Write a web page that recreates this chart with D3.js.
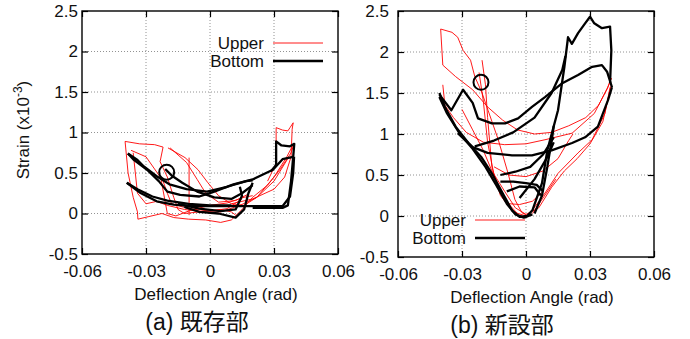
<!DOCTYPE html>
<html>
<head>
<meta charset="utf-8">
<script src="https://cdn.jsdelivr.net/npm/d3@7"></script>
<style>
  body { margin: 0; background: #fff; }
  svg { font-family: "Liberation Sans", Arial, sans-serif; }
  .grid line { stroke: #777; stroke-width: 0.8; stroke-dasharray: 1,2; }
</style>
</head>
<body>
<svg id="chart" width="690" height="339"></svg>
<script>
// ticks
var xTicks = [-0.06, -0.03, 0, 0.03, 0.06];
var yTicks = [-0.5, 0, 0.5, 1, 1.5, 2, 2.5];
var xTickLabels = ["-0.06", "-0.03", "0", "0.03", "0.06"];
var yTickLabels = ["-0.5", "0", "0.5", "1", "1.5", "2", "2.5"];
var seriesNames = ["Upper", "Bottom"];
var captions = ["(a)  既存部", "(b)  新設部"];

// (a) existing part, Upper gauge (red)
var leftUpper = [
  [[-0.0398,0.89],[-0.033,0.86],[-0.026,0.85],[-0.022,0.82],[-0.0234,0.64],[-0.02,0.45],[-0.017,0.2],[-0.015,0.05],[-0.012,0.0],[-0.005,0.02],[0.005,0.05],[0.01,0.02],[0.012,-0.02]],
  [[-0.0398,0.89],[-0.0384,0.5],[-0.036,0.2],[-0.034,0.02],[-0.0338,-0.07],[-0.029,-0.04],[-0.0225,0.0],[-0.017,-0.05],[-0.01,-0.07],[-0.002,-0.08],[0.005,-0.11],[0.01,-0.08],[0.015,0.05],[0.02,0.2],[0.027,0.35],[0.033,0.55],[0.038,0.75],[0.0395,0.87]],
  [[-0.0197,0.81],[-0.0117,0.69],[-0.0056,0.54],[-0.001,0.38],[0.004,0.22],[0.01,0.12],[0.016,0.1],[0.022,0.2],[0.03,0.45],[0.036,0.7],[0.039,0.85]],
  [[-0.037,0.78],[-0.03,0.7],[-0.026,0.55],[-0.022,0.4],[-0.02,0.25],[-0.018,0.12],[-0.01,0.06],[0,0.03],[0.008,0.06],[0.015,0.18]],
  [[-0.0098,0.69],[-0.0098,-0.02]],
  [[0.027,0.4],[0.031,0.62],[0.031,1.06],[0.034,1.03],[0.0365,1.02],[0.0375,1.06],[0.039,1.12],[0.0385,1.04],[0.038,0.7],[0.035,0.45],[0.03,0.3],[0.02,0.18],[0.01,0.12]],
  [[-0.036,0.75],[-0.034,0.25],[-0.03,0.12],[-0.025,0.15],[-0.02,0.1],[-0.012,0.05],[-0.003,0.02],[0.005,0.02],[0.014,0.1],[0.022,0.2],[0.03,0.4],[0.037,0.7]],
  [[-0.023,0.43],[-0.02,0.0],[-0.016,-0.03],[-0.008,0.05],[0,0.1],[0.008,0.13],[0.016,0.2],[0.02,0.22]],
  [[-0.0187,0.81],[-0.011,0.63],[-0.006,0.42],[-0.002,0.25],[0.004,0.14],[0.012,0.16],[0.018,0.24]]
];

// (a) existing part, Bottom gauge (black)
var leftBottom = [
  [[-0.0385,0.74],[-0.036,0.67],[-0.0295,0.54],[-0.024,0.40],[-0.020,0.27],[-0.014,0.23],[-0.005,0.21],[0.001,0.26],[0.011,0.36],[0.020,0.42],[0.0295,0.54],[0.034,0.67],[0.039,0.70]],
  [[-0.0385,0.74],[-0.034,0.66],[-0.031,0.58],[-0.025,0.46],[-0.019,0.36],[-0.011,0.30],[-0.0014,0.27],[0.008,0.33],[0.017,0.40],[0.020,0.41]],
  [[-0.039,0.38],[-0.033,0.26],[-0.025,0.15],[-0.017,0.11],[-0.008,0.09],[0.003,0.09],[0.014,0.09],[0.027,0.09],[0.034,0.09],[0.0375,0.21],[0.039,0.50],[0.0394,0.70]],
  [[-0.039,0.38],[-0.034,0.30],[-0.027,0.21],[-0.02,0.16],[-0.01,0.12],[0,0.10],[0.01,0.10]],
  [[0.0285,0.52],[0.031,0.60],[0.031,0.89],[0.0335,0.84],[0.0375,0.83],[0.0395,0.86],[0.039,0.70],[0.038,0.40],[0.0365,0.1],[0.034,0.07],[0.02,0.07]],
  [[-0.021,0.55],[-0.018,0.47],[-0.013,0.38],[-0.006,0.27],[0.002,0.2],[0.01,0.18],[0.015,0.25],[0.02,0.35]],
  [[-0.012,0.08],[-0.005,0.02],[0.004,0.0],[0.012,-0.05],[0.016,0.05],[0.018,0.25],[0.02,0.38]],
  [[-0.015,0.12],[-0.005,0.06],[0.005,0.03],[0.012,0.05],[0.015,0.22],[0.014,0.33]]
];

// (b) new part, Upper gauge (red)
var rightUpper = [
  [[-0.039,1.84],[-0.040,2.28],[-0.0347,2.24],[-0.032,2.18],[-0.0295,2.02],[-0.026,1.90],[-0.024,1.70],[-0.0206,1.50],[-0.0178,1.29],[-0.013,0.93],[-0.0084,0.52],[-0.0052,0.20],[-0.0019,0.04],[0.001,0.0]],
  [[-0.039,1.84],[-0.033,1.70],[-0.025,1.54],[-0.018,1.33],[-0.011,1.17],[-0.004,1.05],[0.004,1.0],[0.012,1.02],[0.02,1.1],[0.028,1.2],[0.034,1.35],[0.038,1.55],[0.04,1.68]],
  [[-0.0206,1.90],[-0.019,1.6],[-0.018,1.2],[-0.016,0.6],[-0.012,0.25],[-0.006,0.05],[0,0.0]],
  [[-0.022,1.75],[-0.02,1.4],[-0.018,0.9],[-0.015,0.5],[-0.01,0.2],[-0.004,0.03]],
  [[-0.039,1.6],[-0.038,1.35],[-0.034,1.2],[-0.028,1.02],[-0.02,0.9],[-0.01,0.87],[0,0.88],[0.0089,0.93],[0.0216,1.01],[0.032,1.25],[0.0384,1.57],[0.040,1.68]],
  [[0.001,0.0],[0.0089,0.28],[0.015,0.52],[0.0244,0.77],[0.031,0.93],[0.037,1.25],[0.0394,1.57]],
  [[0.003,0.03],[0.014,0.45]],
  [[-0.03,1.3],[-0.025,1.05],[-0.02,0.8],[-0.016,0.55],[-0.01,0.3],[-0.005,0.1],[0,0.02],[0.006,0.1],[0.012,0.35],[0.018,0.55],[0.024,0.7],[0.03,0.88],[0.036,1.15],[0.04,1.6]],
  [[-0.015,0.6],[-0.008,0.5],[0,0.48],[0.008,0.55],[0.015,0.7],[0.02,0.92],[0.022,1.0]],
  [[-0.008,0.15],[-0.003,0.14],[0.003,0.18],[0.008,0.3]]
];

// (b) new part, Bottom gauge (black)
var rightBottom = [
  [[-0.0406,1.50],[-0.038,1.33],[-0.033,1.09],[-0.027,0.89],[-0.021,0.72],[-0.016,0.52],[-0.011,0.28],[-0.0066,0.07],[-0.003,-0.01],[0.0005,0.0],[0.003,0.07],[0.0075,0.40],[0.010,0.80],[0.015,1.29],[0.018,1.82],[0.0197,2.18],[0.0215,2.1],[0.0244,2.23],[0.0277,2.35],[0.030,2.43],[0.032,2.35],[0.0356,2.29],[0.0394,2.31],[0.040,2.02],[0.0394,1.62]],
  [[-0.0406,1.48],[-0.035,1.29],[-0.0295,1.54],[-0.025,1.38],[-0.0225,1.19],[-0.016,1.13],[-0.0098,1.13],[-0.0037,1.19],[0.0028,1.33],[0.0089,1.45],[0.017,1.62],[0.0244,1.72],[0.031,1.82],[0.0356,1.84],[0.038,1.76],[0.0403,1.57]],
  [[-0.032,1.01],[-0.025,0.84],[-0.018,0.77],[-0.0066,0.74],[0.0028,0.74],[0.012,0.80],[0.0216,0.89],[0.0277,0.96],[0.0337,1.09],[0.0384,1.41],[0.0403,1.57]],
  [[-0.024,0.85],[-0.015,0.92],[-0.006,1.02],[0.004,1.2],[0.012,1.5],[0.017,1.78],[0.0185,1.95]],
  [[-0.0406,1.45],[-0.037,1.25],[-0.031,1.0],[-0.025,0.82],[-0.019,0.6],[-0.014,0.38],[-0.009,0.15],[-0.005,0.02],[-0.001,-0.02],[0.003,0.02]],
  [[0.004,0.03],[0.0075,0.25],[0.01,0.6],[0.0125,1.0],[0.013,1.1]],
  [[-0.012,0.42],[-0.006,0.42],[0,0.40],[0.005,0.38],[0.008,0.3]],
  [[-0.012,0.5],[-0.005,0.54],[0.002,0.6],[0.008,0.75],[0.013,0.96]],
  [[-0.009,0.3],[-0.003,0.36],[0.004,0.35],[0.007,0.25]],
  [[-0.003,0.22],[0.004,0.45],[0.01,0.72],[0.013,0.9]]
];

// circle markers
var leftMark = [-0.0203, 0.51];
var rightMark = [-0.0211, 1.63];

var svg = d3.select("#chart");
svg.append("rect").attr("width", 690).attr("height", 339).attr("fill", "#fff");

var panels = [
  { left: 82, right: 338, top: 11, bottom: 254, upper: leftUpper, lower: leftBottom, mark: leftMark,
    labelGap: 4, legendX: 273, legendY: 43, caption: captions[0], captionX: 197, titleX: 216, titleY: 300 },
  { left: 398, right: 654, top: 11, bottom: 257, upper: rightUpper, lower: rightBottom, mark: rightMark,
    labelGap: 9, legendX: 475, legendY: 220, caption: captions[1], captionX: 502, titleX: 532, titleY: 303 }
];

panels.forEach(function (p, pi) {
  var x = d3.scaleLinear().domain([-0.06, 0.06]).range([p.left, p.right]);
  var y = d3.scaleLinear().domain([-0.5, 2.5]).range([p.bottom, p.top]);
  var w = p.right - p.left, h = p.bottom - p.top;

  // grid
  var grid = svg.append("g").attr("class", "grid");
  grid.selectAll(".gx").data(xTicks.slice(1, -1)).enter().append("line")
    .attr("x1", function (d) { return x(d); }).attr("x2", function (d) { return x(d); })
    .attr("y1", p.top).attr("y2", p.bottom);
  grid.selectAll(".gy").data(yTicks.slice(1, -1)).enter().append("line")
    .attr("y1", function (d) { return y(d); }).attr("y2", function (d) { return y(d); })
    .attr("x1", p.left).attr("x2", p.right);

  // axes with inward ticks
  var xAxis = svg.append("g").attr("transform", "translate(0," + p.bottom + ")")
    .call(d3.axisBottom(x).tickValues(xTicks).tickSize(-6).tickPadding(9)
      .tickFormat(function (d, i) { return xTickLabels[i]; }));
  var xTop = svg.append("g").attr("transform", "translate(0," + p.top + ")")
    .call(d3.axisTop(x).tickValues(xTicks).tickSize(-6).tickFormat(""));
  var yAxis = svg.append("g").attr("transform", "translate(" + p.left + ",0)")
    .call(d3.axisLeft(y).tickValues(yTicks).tickSize(-6).tickPadding(p.labelGap)
      .tickFormat(function (d, i) { return yTickLabels[i]; }));
  var yRight = svg.append("g").attr("transform", "translate(" + p.right + ",0)")
    .call(d3.axisRight(y).tickValues(yTicks).tickSize(-6).tickFormat(""));
  [xAxis, xTop, yAxis, yRight].forEach(function (a) {
    a.select(".domain").remove();
    a.selectAll("line").attr("stroke", "#000").attr("stroke-width", 1.2);
    a.selectAll("text").attr("font-size", 17).attr("font-family", "Liberation Sans, Arial, sans-serif").attr("fill", "#111");
  });
  xAxis.selectAll("text").attr("dy", "0.85em");

  // data lines
  var line = d3.line().x(function (d) { return x(d[0]); }).y(function (d) { return y(d[1]); });
  var plot = svg.append("g");
  plot.selectAll(".up").data(p.upper).enter().append("path")
    .attr("d", line).attr("fill", "none").attr("stroke", "#ff0000").attr("stroke-width", 0.9)
    .attr("stroke-linejoin", "round");
  plot.selectAll(".lo").data(p.lower).enter().append("path")
    .attr("d", line).attr("fill", "none").attr("stroke", "#000").attr("stroke-width", 2.3)
    .attr("stroke-linejoin", "round");

  // circle marker
  svg.append("circle").attr("cx", x(p.mark[0])).attr("cy", y(p.mark[1])).attr("r", 7.5)
    .attr("fill", "none").attr("stroke", "#000").attr("stroke-width", 2);

  // frame
  svg.append("rect").attr("x", p.left).attr("y", p.top).attr("width", w).attr("height", h)
    .attr("fill", "none").attr("stroke", "#000").attr("stroke-width", 1.4);

  // legend
  var lg = svg.append("g").attr("font-size", 17).attr("fill", "#111");
  lg.append("text").attr("x", p.legendX - 9).attr("y", p.legendY).attr("dy", "0.35em")
    .attr("text-anchor", "end").text(seriesNames[0]);
  lg.append("line").attr("x1", p.legendX).attr("x2", p.legendX + 50)
    .attr("y1", p.legendY).attr("y2", p.legendY).attr("stroke", "#ff0000").attr("stroke-width", 0.9);
  lg.append("text").attr("x", p.legendX - 9).attr("y", p.legendY + 18).attr("dy", "0.35em")
    .attr("text-anchor", "end").text(seriesNames[1]);
  lg.append("line").attr("x1", p.legendX).attr("x2", p.legendX + 50)
    .attr("y1", p.legendY + 18).attr("y2", p.legendY + 18).attr("stroke", "#000").attr("stroke-width", 2.5);

  // axis title + caption
  svg.append("text").attr("x", p.titleX).attr("y", p.titleY).attr("text-anchor", "middle")
    .attr("font-size", 17).attr("fill", "#111").text("Deflection Angle (rad)");
  svg.append("text").attr("x", p.captionX).attr("y", p.titleY + 30).attr("text-anchor", "middle")
    .attr("font-size", 23).attr("fill", "#111")
    .attr("font-family", "Liberation Sans, 'Noto Sans CJK JP', sans-serif").text(p.caption);
});

// y axis title
var yt = svg.append("text").attr("transform", "translate(29,130) rotate(-90)")
  .attr("text-anchor", "middle").attr("font-size", 17).attr("fill", "#111");
yt.append("tspan").text("Strain (x10");
yt.append("tspan").attr("dy", -7).attr("font-size", 12).text("-3");
yt.append("tspan").attr("dy", 7).text(")");
</script>
</body>
</html>
